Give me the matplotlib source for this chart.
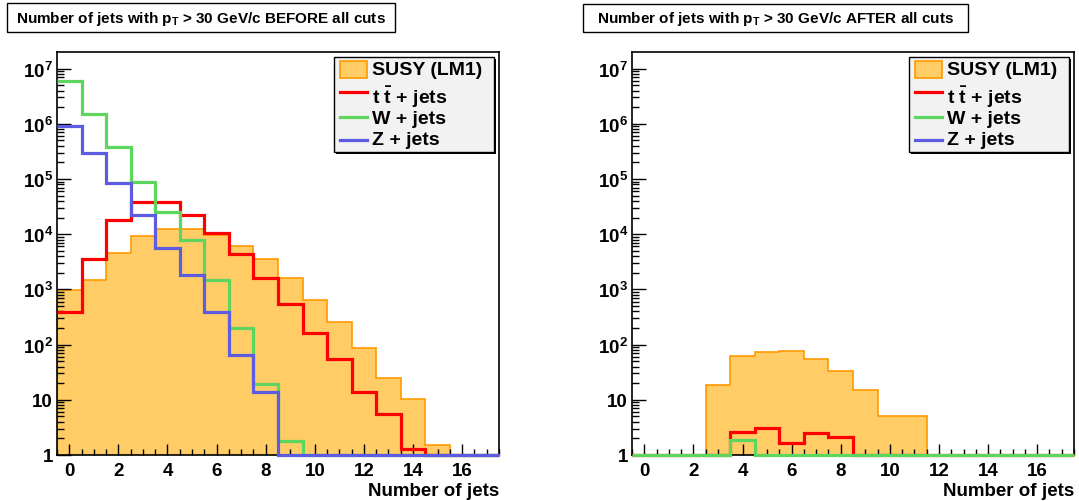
import numpy as np
import matplotlib
matplotlib.use("Agg")
import matplotlib.pyplot as plt
from matplotlib.patches import Rectangle
from matplotlib.lines import Line2D
from matplotlib.ticker import FixedLocator, MultipleLocator, FuncFormatter, NullFormatter

plt.rcParams['font.family'] = ['Liberation Sans', 'DejaVu Sans']
plt.rcParams['font.weight'] = 'bold'
plt.rcParams['mathtext.fontset'] = 'custom'
plt.rcParams['mathtext.rm'] = 'Liberation Sans:bold'
plt.rcParams['mathtext.it'] = 'Liberation Sans:italic:bold'
plt.rcParams['mathtext.bf'] = 'Liberation Sans:bold'

# Jet multiplicity bins: 0 .. 17 jets
n_jets = np.arange(0, 18)
bin_edges = np.arange(-0.5, 18.0, 1.0)

# Event counts before all cuts
susy_before = [973, 1460, 4500, 9100, 12300, 12300, 9700, 6200, 3500, 1630,
               649, 258, 87, 24.8, 10.4, 1.52, 0, 0]
ttbar_before = [387, 3600, 18000, 38000, 38000, 22000, 10700, 4300, 1600, 533,
                163, 56, 13.6, 5.5, 1.27, 0, 0, 0]
wjets_before = [6.0e6, 1.5e6, 3.8e5, 9.0e4, 2.5e4, 7.9e3, 1.5e3, 198, 19, 1.8,
                0, 0, 0, 0, 0, 0, 0, 0]
zjets_before = [9.1e5, 3.0e5, 8.4e4, 2.2e4, 5.6e3, 1.8e3, 387, 66, 14, 0,
                0, 0, 0, 0, 0, 0, 0, 0]

# Event counts after all cuts
susy_after = [0, 0, 0, 18.2, 63, 73.6, 78, 56, 32.7, 14.8,
              5.1, 5.1, 0, 0, 0, 0, 0, 0]
ttbar_after = [0, 0, 0, 0, 2.58, 3.05, 1.68, 2.48, 2.1, 0,
               0, 0, 0, 0, 0, 0, 0, 0]
wjets_after = [0, 0, 0, 0, 1.87, 0, 0, 0, 0, 0,
               0, 0, 0, 0, 0, 0, 0, 0]
zjets_after = [0] * 18

labels = ["SUSY (LM1)", r"t $\bar{\rm t}$ + jets", "W + jets", "Z + jets"]
x_label = "Number of jets"
x_ticks = [0, 2, 4, 6, 8, 10, 12, 14, 16]
y_ticks = [1, 10, 1e2, 1e3, 1e4, 1e5, 1e6, 1e7]
title_before = r"Number of jets with p$_{\rm T}$ > 30 GeV/c BEFORE all cuts"
title_after = r"Number of jets with p$_{\rm T}$ > 30 GeV/c AFTER all cuts"

SUSY_FILL = "#ffcc66"
SUSY_EDGE = "#ff9900"
TT_COLOR = "#ff0000"
W_COLOR = "#5cd65c"
Z_COLOR = "#5c5ce0"

YMIN, YMAX = 1.0, 2.0e7
FS = 13.5
FS_LEG = 14

W_PX, H_PX = 1079, 502
fig = plt.figure(figsize=(W_PX / 100, H_PX / 100), dpi=100)
fig.patch.set_facecolor("white")


def floor_to_axis(vals):
    v = np.asarray(vals, dtype=float)
    return np.where(v > 0, v, YMIN)


def y_fmt(v, pos):
    if v <= 0:
        return ""
    e = int(round(np.log10(v)))
    if e == 0:
        return "1"
    if e == 1:
        return "10"
    return r"$10^{%d}$" % e


# minor log ticks (2..9 per decade) inside the visible range
y_minor = [m * 10.0 ** d for d in range(0, 8) for m in range(2, 10)
           if m * 10.0 ** d < YMAX]


def draw_panel(ax, susy, tt, w, z):
    ax.set_yscale("log")
    ax.set_xlim(-0.5, 17.5)
    ax.set_ylim(YMIN, YMAX)

    s = floor_to_axis(susy)
    ax.stairs(s, bin_edges, baseline=YMIN, fill=True, facecolor=SUSY_FILL,
              edgecolor="none", zorder=1)
    ax.stairs(s, bin_edges, baseline=YMIN, fill=False, edgecolor=SUSY_EDGE,
              linewidth=1.2, zorder=1.2)

    for vals, col in ((tt, TT_COLOR), (w, W_COLOR), (z, Z_COLOR)):
        if np.sum(vals) <= 0:
            continue
        ax.stairs(floor_to_axis(vals), bin_edges, baseline=None, fill=False,
                  edgecolor=col, linewidth=2.3, zorder=3, clip_on=False)

    ax.xaxis.set_major_locator(FixedLocator(x_ticks))
    ax.xaxis.set_minor_locator(MultipleLocator(0.5))
    ax.xaxis.set_minor_formatter(NullFormatter())
    ax.yaxis.set_major_locator(FixedLocator(y_ticks))
    ax.yaxis.set_minor_locator(FixedLocator(y_minor))
    ax.yaxis.set_major_formatter(FuncFormatter(y_fmt))
    ax.yaxis.set_minor_formatter(NullFormatter())

    ax.tick_params(axis="both", which="both", direction="in", top=False, right=False,
                   width=1.0, labelsize=FS)
    ax.tick_params(axis="x", which="major", length=8, pad=5)
    ax.tick_params(axis="x", which="minor", length=4)
    ax.tick_params(axis="y", which="major", length=10, pad=3)
    ax.tick_params(axis="y", which="minor", length=5)
    for lab in ax.get_xticklabels() + ax.get_yticklabels():
        lab.set_fontweight("bold")
    ax.set_axisbelow(False)
    for sp in ax.spines.values():
        sp.set_linewidth(1.2)
        sp.set_zorder(2.5)

    ax.set_xlabel(x_label, loc="right", fontsize=FS, fontweight="bold", labelpad=2)

    # legend box with shadow
    x0, x1, y0, y1 = 0.626, 0.989, 0.752, 0.988
    ax.add_patch(Rectangle((x0 + 0.005, y0 - 0.006), x1 - x0, y1 - y0,
                           transform=ax.transAxes, facecolor="black",
                           edgecolor="none", zorder=5, clip_on=False))
    ax.add_patch(Rectangle((x0, y0), x1 - x0, y1 - y0, transform=ax.transAxes,
                           facecolor="#f2f2f2", edgecolor="black", linewidth=1.0,
                           zorder=6, clip_on=False))
    hx0, hx1 = 0.640, 0.702
    ax.add_patch(Rectangle((hx0, 0.935), hx1 - hx0, 0.042, transform=ax.transAxes,
                           facecolor=SUSY_FILL, edgecolor=SUSY_EDGE, linewidth=1.2,
                           zorder=7))
    line_y = [0.900, 0.838, 0.782]
    for yy, col in zip(line_y, (TT_COLOR, W_COLOR, Z_COLOR)):
        ax.add_line(Line2D([hx0, hx1], [yy, yy], transform=ax.transAxes,
                           color=col, linewidth=2.3, zorder=7))
    text_y = [0.956, 0.891, 0.836, 0.782]
    for yy, lab in zip(text_y, labels):
        ax.text(0.712, yy, lab, transform=ax.transAxes, fontsize=FS_LEG,
                fontweight="bold", va="center", ha="left", zorder=8)


def title_box(x0, x1, y0, y1, text):
    fig.patches.append(Rectangle((x0 / W_PX, 1 - y1 / H_PX), (x1 - x0) / W_PX,
                                 (y1 - y0) / H_PX, transform=fig.transFigure,
                                 facecolor="white", edgecolor="black", linewidth=1.0))
    fig.text((x0 + x1) / 2 / W_PX, 1 - (y0 + y1) / 2 / H_PX, text,
             fontsize=11, fontweight="bold", ha="center", va="center")


axL = fig.add_axes([57 / W_PX, 46 / H_PX, 442 / W_PX, 403 / H_PX])
axR = fig.add_axes([632 / W_PX, 46 / H_PX, 442 / W_PX, 403 / H_PX])

draw_panel(axL, susy_before, ttbar_before, wjets_before, zjets_before)
draw_panel(axR, susy_after, ttbar_after, wjets_after, zjets_after)

title_box(7, 395, 4, 33, title_before)
title_box(583, 968, 5, 33, title_after)

fig.savefig("out.png", dpi=100)
